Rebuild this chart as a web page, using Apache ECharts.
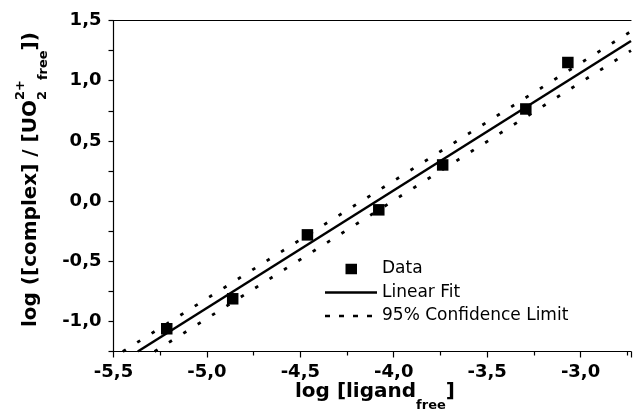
<!DOCTYPE html>
<html>
<head>
<meta charset="utf-8">
<script src="https://cdn.jsdelivr.net/npm/echarts@6/dist/echarts.min.js"></script>
<style>
  html, body { margin: 0; padding: 0; background: #fff; }
  #chart { width: 634px; height: 412px; }
</style>
</head>
<body>
<div id="chart"></div>
<script>
// Measured complexation data: log[ligand_free] vs log([complex]/[UO2 2+ free])
const ligandLog  = [-5.215, -4.862, -4.462, -4.080, -3.738, -3.293, -3.068];
const complexLog = [-1.061, -0.812, -0.281, -0.073, 0.300, 0.765, 1.151];

// Linear fit and 95% confidence limits (end points)
const fitX   = [-5.37, -2.73];
const fitY   = [-1.25, 1.33];
const upperX = [-5.45, -2.73];
const upperY = [-1.25, 1.41];
const lowerX = [-5.28, -2.73];
const lowerY = [-1.25, 1.25];

// Labelled tick values
const xTickValues = [-5.5, -5.0, -4.5, -4.0, -3.5, -3.0];
const yTickValues = [-1.0, -0.5, 0.0, 0.5, 1.0, 1.5];

const legendNames = ['Data', 'Linear Fit', '95% Confidence Limit'];

const FONT = 'DejaVu Sans';

function pairs(xs, ys) { return xs.map((x, i) => [x, ys[i]]); }
function fmtTick(list) {
  return function (v) {
    const hit = list.some(t => Math.abs(t - v) < 1e-6);
    return hit ? v.toFixed(1).replace('.', ',') : '';
  };
}

const measureCtx = document.createElement('canvas').getContext('2d');
function textWidth(str, size) {
  measureCtx.font = 'bold ' + size + 'px "' + FONT + '"';
  return measureCtx.measureText(str).width;
}
// Lays out a title made of pieces (normal text, subscripts, superscripts)
function titleGroup(pieces, x, y, rotation) {
  let cursor = 0;
  const children = pieces.map(p => {
    const el = {
      type: 'text', x: cursor, y: p.dy, silent: true,
      style: { text: p.text, fontSize: p.size, fontWeight: 'bold', fontFamily: FONT,
               fill: '#000', align: 'left', verticalAlign: 'middle' }
    };
    if (!p.stack) cursor += textWidth(p.text, p.size);
    return el;
  });
  return { type: 'group', x: x, y: y, rotation: rotation, children: children };
}

const yTitle = [
  { text: 'log ([complex] / [UO', size: 20, dy: 0 },
  { text: '2', size: 13, dy: 12, stack: true },
  { text: '2+', size: 13, dy: -10 },
  { text: 'free', size: 13, dy: 13 },
  { text: '])', size: 20, dy: 0 }
];
const xTitle = [
  { text: 'log [ligand', size: 20, dy: 0 },
  { text: 'free', size: 13, dy: 14 },
  { text: ']', size: 20, dy: 0 }
];

// Legend keys: 52x12 boxes (corner moves fix the box size)
const ICON_BOX = 'M0,0M52,12';
const iconSquare = 'path://' + ICON_BOX + 'M20.5,0.75h11.5v10.5h-11.5z';
const iconLine = 'path://' + ICON_BOX + 'M0,4.75h52v2.5h-52z';
const iconDash = 'path://' + ICON_BOX +
  'M0,4.75h5v2.5h-5zM14,4.75h5v2.5h-5zM28,4.75h5v2.5h-5zM42,4.75h5v2.5h-5z';

const axisLineStyle = { color: '#000', width: 1.2 };
const labelStyle = { color: '#000', fontFamily: FONT, fontWeight: 'bold', fontSize: 18 };
const legendText = { color: '#000', fontFamily: FONT, fontSize: 17, lineHeight: 20 };

function legendBox(name, icon, top) {
  return {
    show: true, left: 325, top: top, padding: 0, orient: 'vertical',
    itemWidth: 52, itemHeight: 12, selectedMode: false,
    textStyle: legendText,
    data: [{ name: name, icon: icon, itemStyle: { color: '#000', opacity: 1 } }]
  };
}

const chart = echarts.init(document.getElementById('chart'), null, { renderer: 'canvas' });
chart.setOption({
  backgroundColor: '#fff',
  animation: false,
  grid: { left: 113.5, top: 20.5, right: 0, bottom: 60.5, containLabel: false },
  xAxis: [
    {
      type: 'value', min: -5.5, max: -2.73, interval: 0.5,
      axisLine: { show: true, onZero: false, lineStyle: axisLineStyle },
      axisTick: { show: true, length: 6, lineStyle: axisLineStyle },
      minorTick: { show: true, splitNumber: 2, length: 4, lineStyle: axisLineStyle },
      axisLabel: Object.assign({ margin: 12, formatter: fmtTick(xTickValues) }, labelStyle),
      splitLine: { show: false }
    },
    {
      type: 'value', position: 'top', min: -5.5, max: -2.73, interval: 0.5,
      axisLine: { show: true, onZero: false, lineStyle: axisLineStyle },
      axisTick: { show: false }, axisLabel: { show: false }, splitLine: { show: false }
    }
  ],
  yAxis: {
    type: 'value', min: -1.25, max: 1.5, interval: 0.25,
    axisLine: { show: true, onZero: false, lineStyle: axisLineStyle },
    axisTick: { show: true, length: 5, lineStyle: axisLineStyle },
    axisLabel: Object.assign({ margin: 12, formatter: fmtTick(yTickValues) }, labelStyle),
    splitLine: { show: false }
  },
  legend: [
    legendBox(legendNames[0], iconSquare, 259),
    legendBox(legendNames[1], iconLine, 282.5),
    legendBox(legendNames[2], iconDash, 306)
  ],
  series: [
    {
      name: legendNames[2], type: 'line', symbol: 'none', data: pairs(upperX, upperY),
      lineStyle: { color: '#000', width: 2.8, type: [3.5, 13.5] }, itemStyle: { color: '#000' },
      silent: true, z: 2
    },
    {
      name: legendNames[2], type: 'line', symbol: 'none', data: pairs(lowerX, lowerY),
      lineStyle: { color: '#000', width: 2.8, type: [3.5, 13.5] }, itemStyle: { color: '#000' },
      silent: true, z: 2
    },
    {
      name: legendNames[1], type: 'line', symbol: 'none', data: pairs(fitX, fitY),
      lineStyle: { color: '#000', width: 2.5 }, itemStyle: { color: '#000' },
      silent: true, z: 3
    },
    {
      name: legendNames[0], type: 'scatter', symbol: 'rect', symbolSize: 11.5,
      data: pairs(ligandLog, complexLog), itemStyle: { color: '#000', opacity: 1 }, z: 4
    }
  ],
  graphic: [
    titleGroup(yTitle, 30.5, 327, Math.PI / 2),
    titleGroup(xTitle, 295, 392, 0)
  ]
});
</script>
</body>
</html>
